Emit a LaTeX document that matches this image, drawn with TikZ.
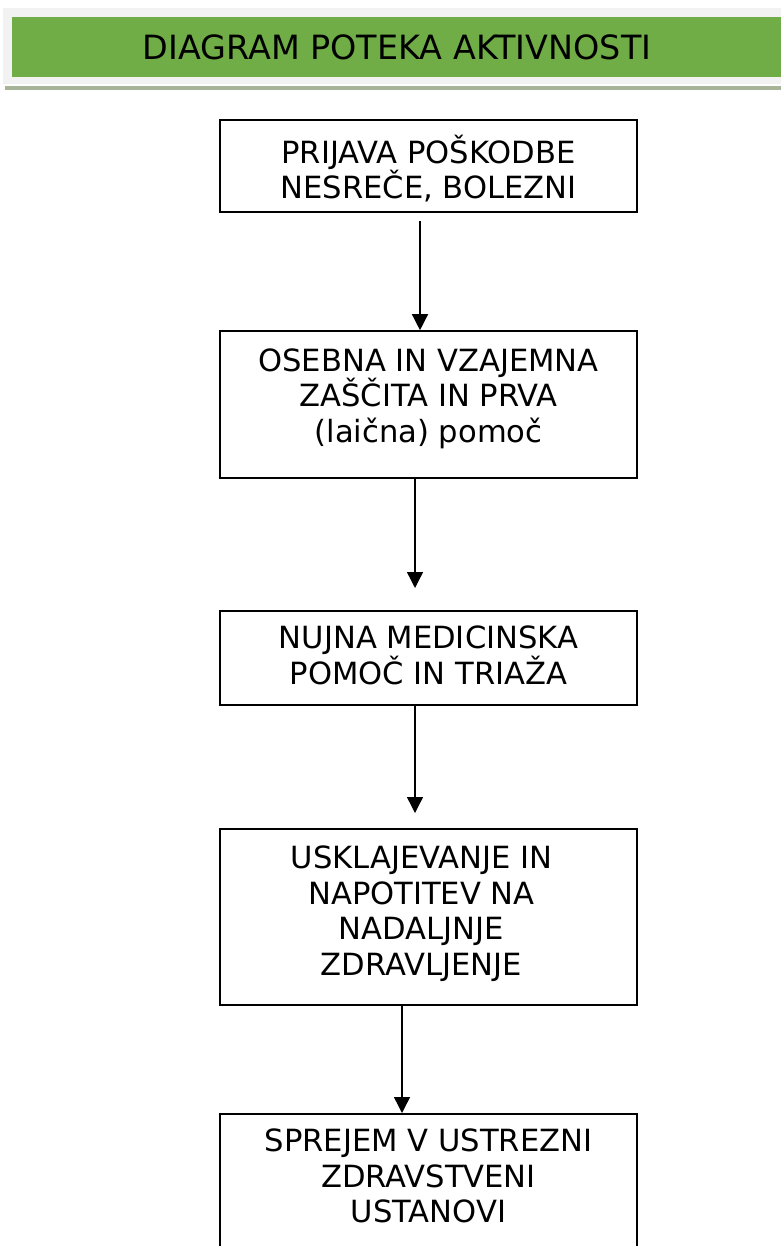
\documentclass[tikz,border=0pt]{standalone}
\usepackage{fontspec}
\setmainfont{DejaVu Sans}
\usetikzlibrary{arrows.meta}
\definecolor{hdrgray}{HTML}{F2F2F2}
\definecolor{hdrgreen}{HTML}{70AD47}
\definecolor{stripecol}{HTML}{A7B49A}
\tikzset{
  stepbox/.style={draw=black, line width=1.6pt, minimum width=417pt, inner sep=0pt},
  steptext/.style={align=center, inner sep=0pt, font=\fontsize{30.6}{35.4}\selectfont,
    execute at begin node=\strut, execute at end node=\strut},
  flowarrow/.style={line width=1.4pt, -{Triangle[width=16pt,length=16pt]}},
  titletext/.style={inner sep=0pt, font=\fontsize{33.4}{38}\selectfont}
}
\begin{document}
\begin{tikzpicture}[x=1pt,y=-1pt]
\useasboundingbox (0,0) rectangle (781,1246);
\clip (0,0) rectangle (781,1246);
% header
\fill[hdrgray] (3,8) rectangle (781,84);
\fill[hdrgreen] (12,17) rectangle (781,77);
\fill[stripecol] (5,86) rectangle (781,90);
\node[titletext] (title) at (397,47) {DIAGRAM POTEKA AKTIVNOSTI};
% boxes
\node[stepbox, minimum height=92pt] (b1) at (428.5,166) {};
\node[steptext] (t1) at (428.5,171.9) {PRIJAVA POŠKODBE\\NESREČE, BOLEZNI};
\node[stepbox, minimum height=147pt] (b2) at (428.5,404.5) {};
\node[steptext] (t2) at (428.5,400.6) {OSEBNA IN VZAJEMNA\\ZAŠČITA IN PRVA\\(laična) pomoč};
\node[stepbox, minimum height=94pt] (b3) at (428.5,658) {};
\node[steptext] (t3) at (428.5,660.4) {NUJNA MEDICINSKA\\POMOČ IN TRIAŽA};
\node[stepbox, minimum height=176pt] (b4) at (428.5,917) {};
\node[steptext] (t4) at (421.5,915.9) {USKLAJEVANJE IN\\NAPOTITEV NA\\NADALJNJE\\ZDRAVLJENJE};
\node[stepbox, minimum height=160pt, anchor=north] (b5) at (428.5,1113) {};
\node[steptext] (t5) at (428.5,1181) {SPREJEM V USTREZNI\\ZDRAVSTVENI\\USTANOVI};
% free ends of connectors
\coordinate (a1s) at (420,221);
\coordinate (a2e) at (415,588);
\coordinate (a3e) at (415,813);
% connectors
\draw[flowarrow] (a1s) -- (a1s |- b2.north);
\draw[flowarrow] (a2e |- b2.south) -- (a2e);
\draw[flowarrow] (a3e |- b3.south) -- (a3e);
\draw[flowarrow] (b4.south -| 402,0) -- (b5.north -| 402,0);
\end{tikzpicture}
\end{document}
